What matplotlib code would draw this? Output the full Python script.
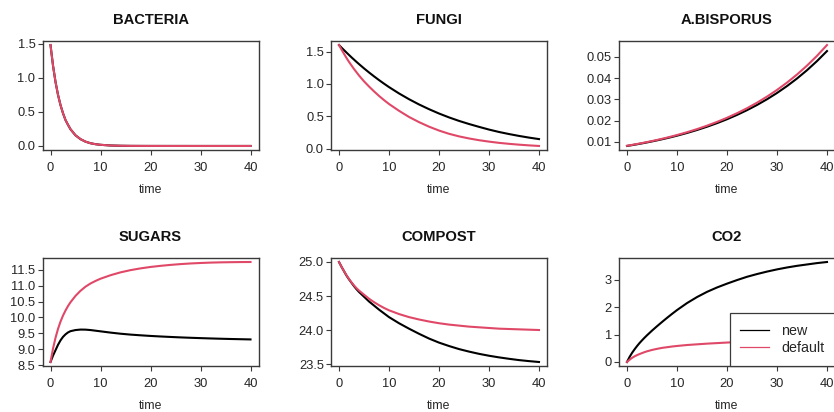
import matplotlib
matplotlib.use("Agg")
import matplotlib.pyplot as plt
from matplotlib.transforms import offset_copy

plt.rcParams['font.family'] = ['Liberation Sans', 'DejaVu Sans']

# ---- model output: two parameter sets ("new", "default") ----
time = [0, 0.5, 1, 1.5, 2, 2.5, 3, 3.5, 4, 5, 6, 7, 8, 9, 10,
        12, 14, 16, 18, 20, 22, 24, 26, 28, 30, 32, 34, 36, 38, 40]

bacteria_new = [1.48, 1.18, 0.94, 0.75, 0.60, 0.48, 0.38, 0.31, 0.245, 0.156,
                0.100, 0.063, 0.040, 0.026, 0.017, 0.007, 0.003, 0.0012, 0.0006, 0.0003,
                0.0002, 0.0001, 0.0001, 0.0, 0.0, 0.0, 0.0, 0.0, 0.0, 0.0]
bacteria_default = [1.48, 1.18, 0.94, 0.75, 0.60, 0.48, 0.38, 0.31, 0.245, 0.156,
                    0.100, 0.063, 0.040, 0.026, 0.017, 0.007, 0.003, 0.0012, 0.0006, 0.0003,
                    0.0002, 0.0001, 0.0001, 0.0, 0.0, 0.0, 0.0, 0.0, 0.0, 0.0]

fungi_new = [1.600, 1.560, 1.522, 1.484, 1.447, 1.410, 1.375, 1.340, 1.306, 1.240,
             1.177, 1.117, 1.059, 1.004, 0.951, 0.853, 0.764, 0.683, 0.610, 0.543,
             0.483, 0.429, 0.381, 0.337, 0.295, 0.258, 0.226, 0.197, 0.171, 0.148]
fungi_default = [1.600, 1.530, 1.465, 1.400, 1.340, 1.285, 1.230, 1.180, 1.130, 1.040,
                 0.960, 0.885, 0.815, 0.750, 0.690, 0.585, 0.490, 0.410, 0.340, 0.280,
                 0.230, 0.190, 0.158, 0.131, 0.109, 0.090, 0.075, 0.062, 0.051, 0.042]

abisporus_new = [0.00810, 0.00829, 0.00849, 0.00869, 0.00889, 0.00911, 0.00932, 0.00954,
                 0.00977, 0.01024, 0.01073, 0.01124, 0.01178, 0.01234, 0.01293, 0.01420,
                 0.01560, 0.01713, 0.01881, 0.02065, 0.02268, 0.02491, 0.02735, 0.03003,
                 0.03298, 0.03622, 0.03977, 0.04367, 0.04796, 0.05266]
abisporus_default = [0.00820, 0.00840, 0.00860, 0.00881, 0.00902, 0.00924, 0.00946, 0.00969,
                     0.00993, 0.01041, 0.01092, 0.01146, 0.01202, 0.01261, 0.01323, 0.01455,
                     0.01601, 0.01762, 0.01939, 0.02133, 0.02347, 0.02582, 0.02841, 0.03127,
                     0.03440, 0.03785, 0.04165, 0.04583, 0.05042, 0.05549]

sugars_new = [8.60, 8.80, 8.97, 9.14, 9.28, 9.39, 9.47, 9.53, 9.57, 9.605,
              9.62, 9.618, 9.605, 9.585, 9.565, 9.525, 9.49, 9.462, 9.44, 9.42,
              9.403, 9.388, 9.374, 9.362, 9.351, 9.341, 9.332, 9.324, 9.317, 9.31]
sugars_default = [8.60, 9.02, 9.36, 9.64, 9.87, 10.06, 10.22, 10.36, 10.48, 10.68,
                  10.84, 10.97, 11.07, 11.15, 11.22, 11.33, 11.42, 11.49, 11.545, 11.59,
                  11.625, 11.655, 11.68, 11.70, 11.715, 11.727, 11.735, 11.74, 11.744, 11.746]

compost_new = [25.00, 24.93, 24.865, 24.80, 24.745, 24.695, 24.645, 24.60, 24.56, 24.49,
               24.42, 24.36, 24.30, 24.245, 24.19, 24.10, 24.02, 23.945, 23.875, 23.815,
               23.765, 23.72, 23.683, 23.65, 23.622, 23.598, 23.577, 23.558, 23.543, 23.53]
compost_default = [25.00, 24.93, 24.865, 24.805, 24.75, 24.70, 24.655, 24.615, 24.58, 24.52,
                   24.46, 24.41, 24.365, 24.325, 24.29, 24.235, 24.19, 24.155, 24.125, 24.10,
                   24.08, 24.065, 24.05, 24.04, 24.03, 24.02, 24.015, 24.01, 24.005, 24.00]

co2_new = [0.00, 0.18, 0.33, 0.46, 0.58, 0.69, 0.79, 0.885, 0.975, 1.145,
           1.305, 1.46, 1.61, 1.755, 1.895, 2.15, 2.37, 2.56, 2.72, 2.86,
           2.99, 3.11, 3.21, 3.30, 3.38, 3.45, 3.51, 3.56, 3.61, 3.65]
co2_default = [0.00, 0.08, 0.15, 0.205, 0.25, 0.29, 0.325, 0.36, 0.39, 0.44,
               0.48, 0.515, 0.54, 0.565, 0.585, 0.62, 0.645, 0.67, 0.69, 0.71,
               0.73, 0.745, 0.76, 0.77, 0.78, 0.79, 0.795, 0.80, 0.805, 0.81]

titles = ["BACTERIA", "FUNGI", "A.BISPORUS", "SUGARS", "COMPOST", "CO2"]
series_labels = ["new", "default"]

xticks = [0, 10, 20, 30, 40]
yticks_bacteria = [0.0, 0.5, 1.0, 1.5]
yticks_fungi = [0.0, 0.5, 1.0, 1.5]
yticks_abisporus = [0.01, 0.02, 0.03, 0.04, 0.05]
yticks_sugars = [8.5, 9.0, 9.5, 10.0, 10.5, 11.0, 11.5]
yticks_compost = [23.5, 24.0, 24.5, 25.0]
yticks_co2 = [0, 1, 2, 3]

# ---- styling ----
COLORS = ["#000000", "#E04868"]
FRAME = "#3a3a3a"
TEXT = "#262626"

W, H = 834, 412
fig = plt.figure(figsize=(W / 100, H / 100), dpi=100)

col_left = [42.5, 331, 619]
box_w = 216
row_top = [41, 258]
box_h = [109, 108]

panels = [
    (bacteria_new, bacteria_default, yticks_bacteria, "{:.1f}"),
    (fungi_new, fungi_default, yticks_fungi, "{:.1f}"),
    (abisporus_new, abisporus_default, yticks_abisporus, "{:.2f}"),
    (sugars_new, sugars_default, yticks_sugars, "{:.1f}"),
    (compost_new, compost_default, yticks_compost, "{:.1f}"),
    (co2_new, co2_default, yticks_co2, "{:d}"),
]

axes = []
for i, (new, default, yt, fmt) in enumerate(panels):
    r, c = divmod(i, 3)
    left, top, h = col_left[c], row_top[r], box_h[r]
    ax = fig.add_axes([left / W, 1 - (top + h) / H, box_w / W, h / H])
    ax.plot(time, new, color=COLORS[0], lw=1.5, label=series_labels[0])
    ax.plot(time, default, color=COLORS[1], lw=1.5, label=series_labels[1])
    ax.margins(x=0.04, y=0.04)

    ax.set_xticks(xticks)
    ax.set_xticklabels([str(v) for v in xticks])
    ax.set_yticks(yt)
    ax.set_yticklabels([fmt.format(v) for v in yt])
    ax.tick_params(axis="both", direction="out", length=3.6, width=0.8,
                   color=FRAME, labelcolor=TEXT, labelsize=9.3)
    ax.tick_params(axis="x", pad=5)
    ax.tick_params(axis="y", pad=1.5)
    for sp in ax.spines.values():
        sp.set_color(FRAME)
        sp.set_linewidth(1.0)

    ax.set_title(titles[i], fontsize=10.6, fontweight="bold", color="#111111", pad=12)
    ax.set_xlabel("time", fontsize=8.8, color=TEXT)
    ax.xaxis.label.set_va("baseline")
    ax.xaxis.set_label_coords(0.5, 0, transform=offset_copy(ax.transAxes, fig=fig,
                                                            y=-43, units="dots"))
    axes.append(ax)

leg = axes[5].legend(loc="lower right", bbox_to_anchor=(1.0, 0.0), borderaxespad=0,
                     fancybox=False, framealpha=1, edgecolor=FRAME, fontsize=10.3,
                     handlelength=2.0, handletextpad=0.85, borderpad=0.75,
                     labelspacing=0.22)
leg.get_frame().set_linewidth(0.9)
for line in leg.get_lines():
    line.set_linewidth(0.9)
for t in leg.get_texts():
    t.set_color(TEXT)

fig.savefig("out.png", dpi=100)
